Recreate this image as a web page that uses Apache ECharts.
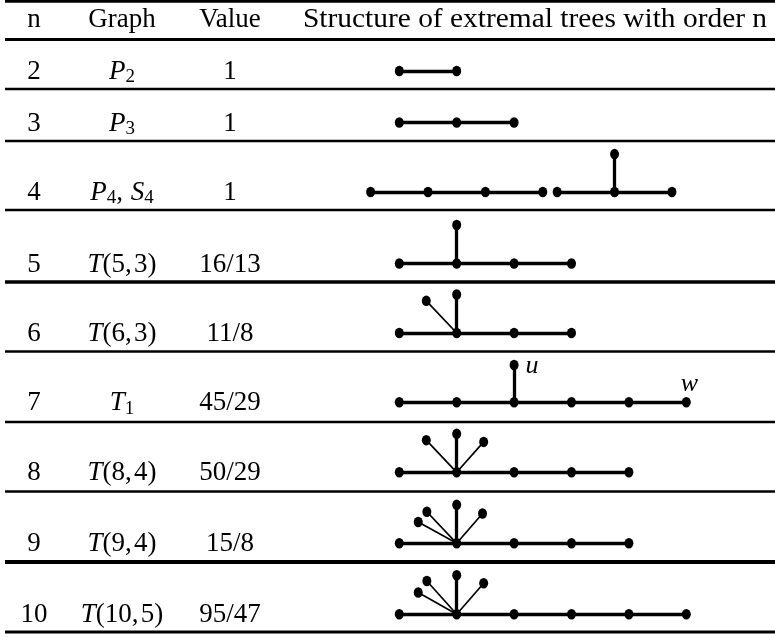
<!DOCTYPE html>
<html><head><meta charset="utf-8">
<script src="https://cdn.jsdelivr.net/npm/echarts@6/dist/echarts.min.js"></script>
<style>html,body{margin:0;padding:0;background:#fff}#c{width:775px;height:637px}</style>
</head><body><div id="c"></div>
<script>
// ---------------- data ----------------
const headers = ['n', 'Graph', 'Value', 'Structure of extremal trees with order n'];
const orders = ['2', '3', '4', '5', '6', '7', '8', '9', '10'];
const graphNames = ['P_2', 'P_3', 'P_4, S_4', 'T(5,3)', 'T(6,3)', 'T_1', 'T(8,4)', 'T(9,4)', 'T(10,5)'];
const values = ['1', '1', '1', '16/13', '11/8', '45/29', '50/29', '15/8', '95/47'];
// tree nodes: [position along the path (node spacings), height above the path, optional vertex name]
const treeNodes = [
  [[0,0],[1,0]],
  [[0,0],[1,0],[2,0]],
  [[-0.5,0],[0.5,0],[1.5,0],[2.5,0],[2.75,0],[3.75,0],[4.75,0],[3.75,0.66]],
  [[0,0],[1,0],[2,0],[3,0],[1,0.67]],
  [[0,0],[1,0],[2,0],[3,0],[1,0.67],[0.47,0.56]],
  [[0,0],[1,0],[2,0],[3,0],[4,0],[5,0,'w'],[2,0.65,'u']],
  [[0,0],[1,0],[2,0],[3,0],[4,0],[0.47,0.56],[1,0.67],[1.47,0.53]],
  [[0,0],[1,0],[2,0],[3,0],[4,0],[0.33,0.37],[0.48,0.55],[1,0.67],[1.45,0.52]],
  [[0,0],[1,0],[2,0],[3,0],[4,0],[5,0],[0.33,0.38],[0.48,0.58],[1,0.68],[1.47,0.54]]
];
const treeEdges = [
  [[0,1]],
  [[0,1],[1,2]],
  [[0,1],[1,2],[2,3],[4,5],[5,6],[5,7]],
  [[0,1],[1,2],[2,3],[1,4]],
  [[0,1],[1,2],[2,3],[1,4],[1,5]],
  [[0,1],[1,2],[2,3],[3,4],[4,5],[2,6]],
  [[0,1],[1,2],[2,3],[3,4],[1,5],[1,6],[1,7]],
  [[0,1],[1,2],[2,3],[3,4],[1,5],[1,6],[1,7],[1,8]],
  [[0,1],[1,2],[2,3],[3,4],[4,5],[1,6],[1,7],[1,8],[1,9]]
];

// ---------------- layout ----------------
const W = 775, H = 637;
const UNIT = 57.4;          // px per node spacing
const X0 = 399.3;           // px of path position 0
const rowY = [71, 122.5, 192, 263.5, 333, 402.3, 472.3, 543.3, 614.3];
const headerY = 20;
const colX = [34, 122, 230, 535];
const rules = [[1.4,2.8],[39.5,2.8],[89,2.7],[141,2.7],[210,2.7],[282,3.5],[351.5,2.7],[422,2.7],[491.5,2.7],[562,4],[632,2.8]];
const FONT = "'Liberation Serif', 'Times New Roman', serif";
const FS = 27;

function mathRich(s) {
  let out = '';
  for (let i = 0; i < s.length; i++) {
    const c = s[i];
    if (c === '_') { out += '{sub|' + s[i + 1] + '}'; i++; }
    else if (/[A-Za-z]/.test(c)) out += '{it|' + c + '}';
    else if (c === ' ') out += '{rm|\u2009}';
    else if (c === ',') out += '{rm|,\u200A}';
    else out += '{rm|' + c + '}';
  }
  return out;
}
const rich = {
  rm: { fontFamily: FONT, fontSize: FS, lineHeight: 30, fill: '#000', color: '#000' },
  it: { fontFamily: FONT, fontSize: FS, fontStyle: 'italic', lineHeight: 30, fill: '#000', color: '#000' },
  sub: { fontFamily: FONT, fontSize: 19, lineHeight: 17, verticalAlign: 'bottom', fill: '#000', color: '#000' }
};

const graphic = [];
rules.forEach(([y, w]) => graphic.push({
  type: 'line', shape: { x1: 5, y1: y, x2: W, y2: y },
  style: { stroke: '#000', lineWidth: w }, silent: true
}));
headers.forEach((h, i) => graphic.push({
  type: 'text', x: colX[i], y: headerY, scaleX: i === 3 ? 1.09 : 1,
  style: { text: h, fontFamily: FONT, fontSize: FS, fill: '#000', align: 'center', verticalAlign: 'middle' }
}));
orders.forEach((t, r) => graphic.push({
  type: 'text', x: colX[0], y: rowY[r] + 1,
  style: { text: t, fontFamily: FONT, fontSize: FS, fill: '#000', align: 'center', verticalAlign: 'middle' }
}));
graphNames.forEach((t, r) => graphic.push({
  type: 'text', x: colX[1], y: rowY[r] + 1,
  style: { text: mathRich(t), rich: rich, fontFamily: FONT, fontSize: FS, fill: '#000', align: 'center', verticalAlign: 'middle' }
}));
values.forEach((t, r) => graphic.push({
  type: 'text', x: colX[2], y: rowY[r] + 1,
  style: { text: t, fontFamily: FONT, fontSize: FS, fill: '#000', align: 'center', verticalAlign: 'middle' }
}));

// tree marks through the cartesian scales (x in node spacings, y in the same unit, downward)
const nodeData = [], edgeData = [];
treeNodes.forEach((nodes, r) => {
  const base = rowY[r] / UNIT;
  const pt = n => [n[0], base - n[1]];
  nodes.forEach(n => {
    const item = { value: pt(n) };
    if (n[2]) {
      item.label = {
        show: true, formatter: n[2], fontFamily: FONT, fontSize: 26, fontStyle: 'italic', color: '#000',
        position: n[2] === 'u' ? 'right' : 'top', distance: n[2] === 'u' ? 7 : 0,
        offset: n[2] === 'u' ? [0, 1] : [3, 0]
      };
    }
    nodeData.push(item);
  });
  treeEdges[r].forEach(([a, b]) => {
    const A = nodes[a], B = nodes[b];
    const slanted = A[0] !== B[0] && A[1] !== B[1];
    edgeData.push({ coords: [pt(A), pt(B)], lineStyle: { width: slanted ? 1.7 : 3.3, color: '#000' } });
  });
});

const chart = echarts.init(document.getElementById('c'), null, { renderer: 'canvas' });
chart.setOption({
  animation: false,
  backgroundColor: '#fff',
  grid: { left: 0, right: 0, top: 0, bottom: 0 },
  xAxis: { type: 'value', min: -X0 / UNIT, max: (W - X0) / UNIT, show: false },
  yAxis: { type: 'value', min: 0, max: H / UNIT, inverse: true, show: false },
  graphic: graphic,
  series: [
    { type: 'lines', coordinateSystem: 'cartesian2d', data: edgeData, z: 2, silent: true,
      lineStyle: { color: '#000', opacity: 1, curveness: 0 } },
    { type: 'scatter', data: nodeData, symbol: 'circle', symbolSize: [9, 10.5], z: 3, silent: true,
      itemStyle: { color: '#000', opacity: 1 } }
  ]
});
</script></body></html>
